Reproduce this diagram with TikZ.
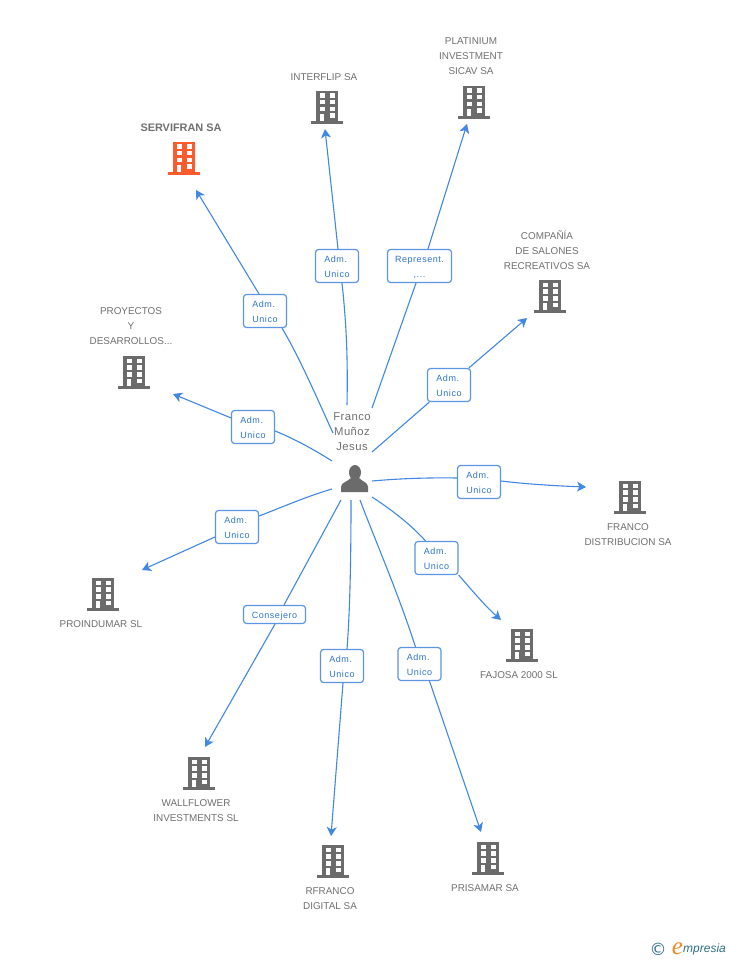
\documentclass[tikz,border=0pt]{standalone}
\usepackage{fontspec}
\setmainfont{Liberation Sans}
\newfontfamily\lblfont[LetterSpace=6]{Liberation Sans}
\newfontfamily\perfont[LetterSpace=4]{Liberation Sans}
\newfontfamily\logofont{Liberation Serif}
\newfontfamily\copyfont{DejaVu Sans}
\usetikzlibrary{arrows.meta}
\definecolor{edgeblue}{HTML}{4387E4}
\definecolor{boxblue}{HTML}{5C96E2}
\definecolor{txtblue}{HTML}{2F74D0}
\definecolor{txtgrey}{HTML}{707070}
\definecolor{icongrey}{HTML}{6B6B6B}
\definecolor{iconred}{HTML}{FF5A2C}
\definecolor{logoteal}{HTML}{2E7187}
\definecolor{logoorange}{HTML}{F08A24}
\tikzset{
  link/.style={draw=edgeblue,line width=1.1pt},
  linkend/.style={link,-{Stealth[length=9pt,width=10pt,inset=2.5pt]}},
  rolebox/.style={draw=boxblue,line width=1.2pt,fill=white,rounded corners=3pt,inner sep=0pt,
    align=center,text=txtblue,font=\lblfont\fontsize{9}{15}\selectfont},
  twoline/.style={rolebox,align=left,minimum width=43pt,minimum height=33pt},
  company/.style={text=txtgrey,align=center,inner sep=0pt,yshift=-1pt,font=\fontsize{9.9}{15}\selectfont},
  pics/bldg/.style={code={
    \fill[#1] (-11,-16) rectangle (11,14);
    \fill[#1] (-16,14) rectangle (16,17);
    \foreach \wy in {-13.5,-7,0}{
      \fill[white] (-7.5,\wy) rectangle (-2.5,\wy+4.5);
      \fill[white] (2.5,\wy) rectangle (7.5,\wy+4.5);
    }
    \fill[white] (2.5,6.5) rectangle (7.5,11);
    \fill[white] (-7.5,7) rectangle (-3,14);
  }},
}
\newcommand{\firstline}{\rule{0pt}{8.5pt}}
\begin{document}
\begin{tikzpicture}[x=1pt,y=-1pt]
\useasboundingbox (0,0) rectangle (728,960);
\fill[white] (0,0) rectangle (728,960);

% buildings
\pic at (184,158) {bldg=iconred};
\pic at (327,107) {bldg=icongrey};
\pic at (474,102) {bldg=icongrey};
\pic at (550,296) {bldg=icongrey};
\pic at (134,372) {bldg=icongrey};
\pic at (630,497) {bldg=icongrey};
\pic at (522,645) {bldg=icongrey};
\pic at (488,858) {bldg=icongrey};
\pic at (333,861) {bldg=icongrey};
\pic at (199,773) {bldg=icongrey};
\pic at (103,594) {bldg=icongrey};

% company names
\node[company,font=\bfseries\fontsize{10.9}{15}\selectfont] (n1) at (181,127) {SERVIFRAN SA};
\node[company] (n2) at (324,76) {INTERFLIP SA};
\node[company] (n3) at (471,55) {PLATINIUM\\INVESTMENT\\SICAV SA};
\node[company] (n4) at (547,249) {COMPAÑÍA\\DE SALONES\\RECREATIVOS SA};
\node[company] (n5) at (131,325) {PROYECTOS\\Y\\DESARROLLOS...};
\node[company] (n6) at (628,534) {FRANCO\\DISTRIBUCION SA};
\node[company] (n7) at (519,674) {FAJOSA 2000 SL};
\node[company] (n8) at (485,887) {PRISAMAR SA};
\node[company] (n9) at (330,898) {RFRANCO\\DIGITAL SA};
\node[company] (n10) at (196,810) {WALLFLOWER\\INVESTMENTS SL};
\node[company] (n11) at (101,623) {PROINDUMAR SL};

% person
\fill[icongrey] (355,472.5) ellipse (6pt and 7.5pt);
\fill[icongrey] (341,492) -- (341,487) .. controls (341,482.5) and (347,482) .. (351,478)
  -- (359,478) .. controls (363,482) and (368,482.5) .. (368,487) -- (368,492) -- cycle;
\node[text=txtgrey,align=center,inner sep=0pt,yshift=-1pt,font=\perfont\fontsize{11.3}{15}\selectfont] (person) at (352,431) {Franco\\Muñoz\\Jesus};

% role boxes
\node[twoline] (l1) at (265,311) {\firstline Adm.\\Unico};
\node[twoline] (l2) at (337,266) {\firstline Adm.\\Unico};
\node[rolebox,minimum width=64pt,minimum height=33pt] (l3) at (419.5,266) {\firstline Represent.\\,...};
\node[twoline] (l4) at (449,385) {\firstline Adm.\\Unico};
\node[twoline] (l5) at (479,482) {\firstline Adm.\\Unico};
\node[twoline] (l6) at (436.5,558) {\firstline Adm.\\Unico};
\node[twoline] (l7) at (419.5,664) {\firstline Adm.\\Unico};
\node[twoline] (l8) at (342,666) {\firstline Adm.\\Unico};
\node[rolebox,minimum width=62pt,minimum height=18pt] (l9) at (274.5,614.5) {\rule{0pt}{10.5pt}Consejero};
\node[twoline] (l10) at (237,527) {\firstline Adm.\\Unico};
\node[twoline] (l11) at (253,427) {\firstline Adm.\\Unico};

% connector free ends
\coordinate (s1) at (333,433);   \coordinate (t1) at (196,190);
\coordinate (s2) at (347,405);   \coordinate (t2) at (325,129);
\coordinate (s3) at (372,408);   \coordinate (t3) at (467,124);
\coordinate (s4) at (372,452);   \coordinate (t4) at (527,318);
\coordinate (s5) at (372,481);   \coordinate (t5) at (586,487);
\coordinate (s6) at (372,497);   \coordinate (t6) at (501,620);
\coordinate (s7) at (360,500);   \coordinate (t7) at (481,832);
\coordinate (s8) at (351,500);   \coordinate (t8) at (331,836);
\coordinate (s9) at (341,500);   \coordinate (t9) at (205,747);
\coordinate (s10) at (332,489);  \coordinate (t10) at (142,570);
\coordinate (s11) at (332,461);  \coordinate (t11) at (173,394);

% connectors
\draw[link] (s1) .. controls (320,405) and (300,358) .. ([xshift=17pt]l1.south);
\draw[linkend] ([xshift=-6pt]l1.north) -- (t1);
\draw[link] (s2) .. controls (348,355) and (346,320) .. ([xshift=5pt]l2.south);
\draw[linkend] ([xshift=1pt]l2.north) -- (t2);
\draw[link] (s3) -- ([xshift=-3.5pt]l3.south);
\draw[linkend] ([xshift=8.5pt]l3.north) -- (t3);
\draw[link] (s4) -- (l4);
\draw[linkend] (l4) -- (t4);
\draw[link] (s5) .. controls (400,478.5) and (430,477.5) .. ([yshift=4pt]l5.west);
\draw[linkend] ([yshift=1pt]l5.east) .. controls (530,484.5) and (560,486) .. (t5);
\draw[link] (s6) .. controls (395,512) and (412,526) .. ([xshift=-11pt]l6.north);
\draw[linkend] ([yshift=-17pt]l6.east) .. controls (470,588) and (485,606) .. (t6);
\draw[link] (s7) .. controls (375,540) and (397,590) .. ([xshift=-4pt]l7.north);
\draw[linkend] ([xshift=10pt]l7.south) -- (t7);
\draw[link] (s8) .. controls (351,560) and (350,610) .. ([xshift=5pt]l8.north);
\draw[linkend] ([xshift=1pt]l8.south) -- (t8);
\draw[link] (s9) -- ([xshift=9.5pt]l9.north);
\draw[linkend] ([xshift=0.5pt]l9.south) -- (t9);
\draw[link] (s10) .. controls (305,497) and (280,508) .. ([yshift=11pt]l10.east);
\draw[linkend] (l10) -- (t10);
\draw[link] (s11) .. controls (310,447) and (290,437) .. ([yshift=-4pt]l11.east);
\draw[linkend] (l11) -- (t11);

% logo
\node[text=logoteal,inner sep=0pt,font=\copyfont\fontsize{17}{17}\selectfont] (c) at (658,949.5) {©};
\node[text=logoorange,inner sep=0pt,font=\logofont\itshape\fontsize{25}{25}\selectfont] (e) at (677.5,949) {e};
\node[text=logoteal,inner sep=0pt,anchor=west,font=\itshape\fontsize{12}{12}\selectfont] (m) at (683,949.5) {mpresia};
\end{tikzpicture}
\end{document}
